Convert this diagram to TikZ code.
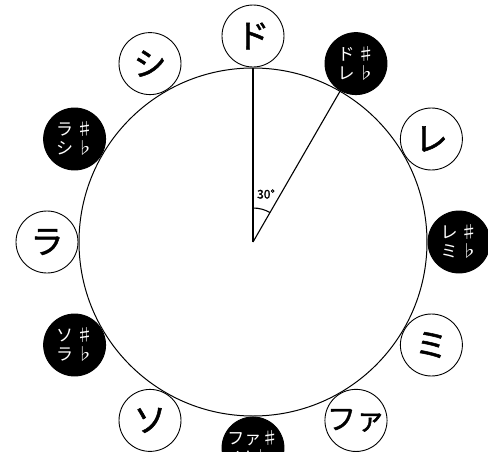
\documentclass[tikz,border=0pt]{standalone}
\usepackage{fontspec}
\newfontfamily\jpfont{Noto Sans CJK JP}
\newfontfamily\jpbold{Noto Sans CJK JP}[FakeBold=1.5]
\usetikzlibrary{positioning}
\definecolor{ink}{HTML}{000000}
\tikzset{
  wheel/.style={draw=ink,circle,line width=1pt,minimum size=348pt,inner sep=0pt},
  natural/.style={draw=ink,fill=white,circle,line width=0.9pt,minimum size=62pt,inner sep=0pt,font=\jpbold\fontsize{33}{33}\selectfont},
  accidental/.style={draw=ink,fill=ink,circle,line width=0.9pt,minimum size=62pt,inner sep=0pt,align=center,text=white,font=\jpfont\fontsize{17}{19}\selectfont},
  spoke/.style={draw=ink,line width=1.1pt},
  anglelabel/.style={font=\jpbold\fontsize{12}{12}\selectfont,inner sep=0pt}
}
\begin{document}
\begin{tikzpicture}[x=1pt,y=1pt]
    \useasboundingbox (-253pt,-209pt) rectangle (235pt,242pt);
    \node[wheel] (wheel) at (0,0) {};
    \coordinate (hub) at (0,0);
    \coordinate (arcstart) at (90:34pt);

    \draw[spoke] (hub) -- (wheel.90);
    \draw[spoke] (hub) -- (wheel.60);
    \draw[spoke] (arcstart) arc (90:60:34pt);
    \node[anglelabel] (deg) at (13pt,48pt) {30°};

    \node[natural] (do) at (90:206pt) {ド};
    \node[accidental] (dis) at (60:206pt) {ド\,♯\\レ\,♭};
    \node[natural] (re) at (30:206pt) {レ};
    \node[accidental] (ris) at (0:206pt) {レ\,♯\\ミ\,♭};
    \node[natural] (mi) at (-30:206pt) {ミ};
    \node[natural,font=\jpbold\fontsize{29}{29}\selectfont] (fa) at (-60:206pt) {ファ};
    \node[accidental] (fis) at (-90:206pt) {ファ♯\\ソ\,♭};
    \node[natural] (so) at (-120:206pt) {ソ};
    \node[accidental] (sis) at (-150:206pt) {ソ\,♯\\ラ\,♭};
    \node[natural] (ra) at (180:206pt) {ラ};
    \node[accidental] (ais) at (150:206pt) {ラ\,♯\\シ\,♭};
    \node[natural] (si) at (120:206pt) {シ};
  \end{tikzpicture}
\end{document}
